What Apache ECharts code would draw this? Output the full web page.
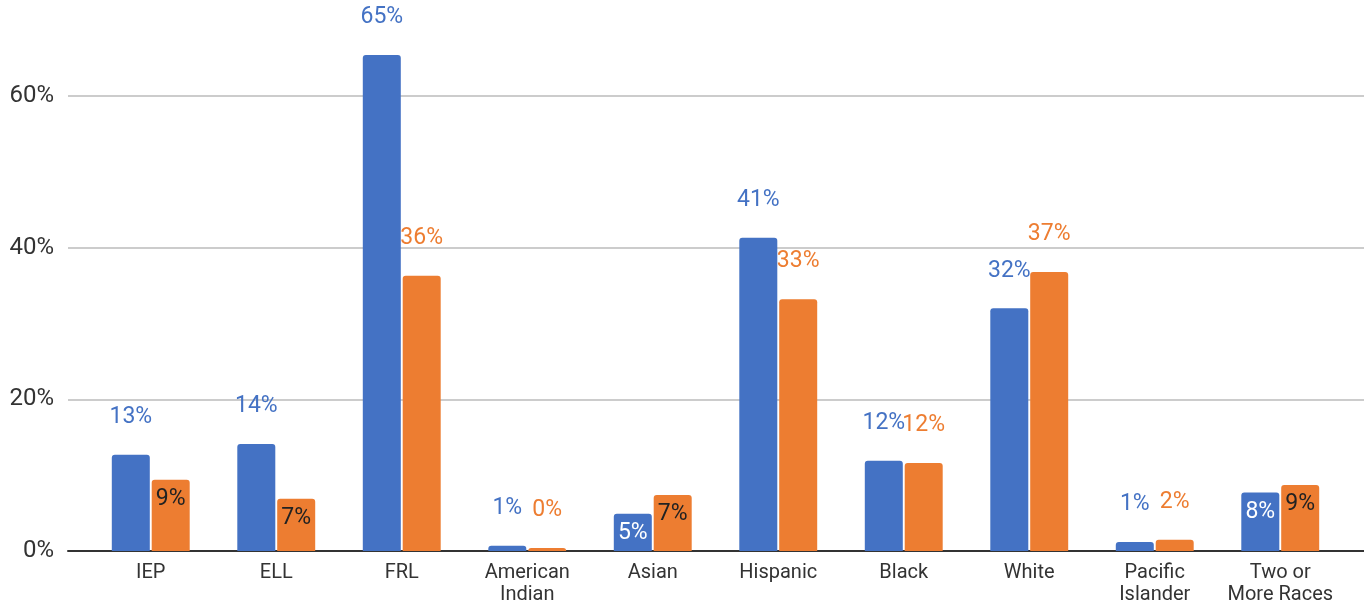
<!DOCTYPE html>
<html><head><meta charset="utf-8">
<script src="https://cdn.jsdelivr.net/npm/echarts@6/dist/echarts.min.js"></script>
<style>html,body{margin:0;padding:0;background:#fff}#c{width:1364px;height:606px}</style>
</head><body><div id="c"></div>
<script>
const categories = ['IEP','ELL','FRL','American\nIndian','Asian','Hispanic','Black','White','Pacific\nIslander','Two or\nMore Races'];
const seriesA = [12.7, 14.1, 65.4, 0.7, 4.9, 41.3, 11.9, 32.0, 1.2, 7.7];
const seriesB = [9.4, 6.9, 36.3, 0.4, 7.4, 33.2, 11.6, 36.8, 1.5, 8.7];
const insideA = [false,false,false,false,true,false,false,false,false,true];
const insideB = [true,true,false,false,true,false,false,false,false,true];
const yTicks = [0, 20, 40, 60];

const BLUE = '#4472C4', ORANGE = '#ED7D31';
function mk(vals, inside, color, inColor){
  return vals.map((v,i)=>({
    value: v,
    label: inside[i]
      ? {position:'insideTop', distance:8, color: inColor}
      : {position:'top', distance:26, color: color}
  }));
}
const chart = echarts.init(document.getElementById('c'), null, {renderer:'canvas'});
const font = 'Roboto, "Noto Sans", sans-serif';
chart.setOption({
  animation:false,
  grid:[
    {left:68, right:0, top:96, bottom:55},
    {left:88, right:21, top:20.2, bottom:55}
  ],
  xAxis:[
    {gridIndex:0, type:'value', min:0, max:1, axisLine:{show:true, lineStyle:{color:'#333', width:2}}, axisTick:{show:false}, axisLabel:{show:false}, splitLine:{show:false}},
    {gridIndex:1, type:'category', data:categories, axisLine:{show:false}, axisTick:{show:false},
     axisLabel:{color:'#333', fontSize:20, fontFamily:font, margin:11, lineHeight:22, interval:0}}
  ],
  yAxis:[
    {gridIndex:0, type:'value', min:yTicks[0], max:yTicks[yTicks.length-1], interval:20, axisLine:{show:false}, axisTick:{show:false},
     axisLabel:{color:'#333', fontSize:24, fontFamily:font, margin:14, formatter:v=>v+'%'},
     splitLine:{lineStyle:{color:'#cccccc', width:2}}},
    {gridIndex:1, type:'value', min:0, max:70, show:false, splitLine:{show:false}}
  ],
  series:[
    {type:'bar', xAxisIndex:1, yAxisIndex:1, data: mk(seriesA, insideA, BLUE, '#ffffff'), barWidth:38, barGap:'5%',
     itemStyle:{color:BLUE, borderRadius:[3,3,0,0]},
     label:{show:true, fontSize:23, fontFamily:font, formatter:p=>Math.round(p.value)+'%'}},
    {type:'bar', xAxisIndex:1, yAxisIndex:1, data: mk(seriesB, insideB, ORANGE, '#222222'), barWidth:38,
     itemStyle:{color:ORANGE, borderRadius:[3,3,0,0]},
     label:{show:true, fontSize:23, fontFamily:font, formatter:p=>Math.round(p.value)+'%'}}
  ]
});
</script></body></html>
